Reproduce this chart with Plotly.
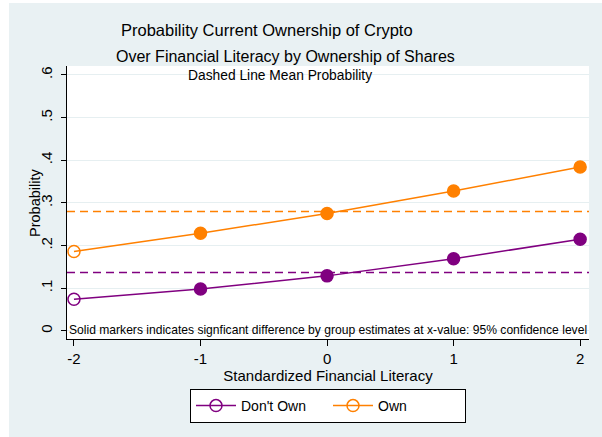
import plotly.graph_objects as go

# ---- data ----
x_vals = [-2, -1, 0, 1, 2]
dont_own = [0.074, 0.098, 0.129, 0.169, 0.215]
own = [0.186, 0.229, 0.275, 0.328, 0.384]
significant = [False, True, True, True, True]
mean_dont_own = 0.137
mean_own = 0.280
y_ticks = [0, 0.1, 0.2, 0.3, 0.4, 0.5, 0.6]
y_ticktext = ["0", ".1", ".2", ".3", ".4", ".5", ".6"]
x_ticks = [-2, -1, 0, 1, 2]
x_ticktext = ["-2", "-1", "0", "1", "2"]

PURPLE = "#800080"
ORANGE = "#FF8000"
BG = "#E9F1F3"
FONT = "Liberation Sans, Arial, sans-serif"

W, H = 602, 437
L, R, T, B = 67, 589, 66, 339


def xp(px):
    return (px - L) / (R - L)


def yp(py):
    return (B - py) / (B - T)


symbols = ["circle" if s else "circle-open" for s in significant]

fig = go.Figure()
for name, vals, col in [("Don't Own", dont_own, PURPLE), ("Own", own, ORANGE)]:
    fig.add_trace(go.Scatter(
        x=x_vals, y=vals, name=name, mode="lines+markers",
        line=dict(color=col, width=1.5),
        marker=dict(color=col, size=12, symbol=symbols, line=dict(color=col, width=1.5)),
    ))

for val, col in [(mean_dont_own, PURPLE), (mean_own, ORANGE)]:
    fig.add_shape(type="line", xref="paper", x0=0, x1=1, yref="y", y0=val, y1=val,
                  line=dict(color=col, width=1.5, dash="8px,5px"), layer="below")

# white strips at the image edges
fig.add_shape(type="rect", xref="paper", yref="paper", x0=xp(0), x1=xp(9), y0=yp(H), y1=yp(0),
              fillcolor="white", line=dict(width=0), layer="below")
fig.add_shape(type="rect", xref="paper", yref="paper", x0=xp(0), x1=xp(W), y0=yp(3), y1=yp(0),
              fillcolor="white", line=dict(width=0), layer="below")

annos = [
    dict(text="Probability Current Ownership of Crypto", x=xp(267), y=yp(30), size=16.5, angle=0),
    dict(text="Over Financial Literacy by Ownership of Shares", x=xp(285), y=yp(57), size=16, angle=0),
    dict(text="Dashed Line Mean Probability", x=xp(280), y=yp(75), size=13.8, angle=0),
    dict(text="Solid markers indicates signficant difference by group estimates at x-value: 95% confidence level",
         x=xp(328), y=yp(330), size=12.1, angle=0),
    dict(text="Probability", x=xp(35), y=yp(203), size=14.5, angle=-90),
]
for a in annos:
    fig.add_annotation(text=a["text"], x=a["x"], y=a["y"], xref="paper", yref="paper",
                       showarrow=False, xanchor="center", yanchor="middle", textangle=a["angle"],
                       font=dict(family=FONT, size=a["size"], color="black"))

fig.update_layout(
    width=W, height=H,
    margin=dict(l=L, r=W - R, t=T, b=H - B),
    paper_bgcolor=BG, plot_bgcolor="white",
    font=dict(family=FONT, color="black"),
    showlegend=True,
    legend=dict(orientation="h", x=0.5, xanchor="center", y=yp(389), yanchor="top",
                bgcolor="white", bordercolor="black", borderwidth=1,
                font=dict(size=14, family=FONT), itemwidth=40, entrywidth=82),
)
fig.update_xaxes(range=[-2.055, 2.07], tickvals=x_ticks, ticktext=x_ticktext, ticks="outside",
                 ticklen=6, tickcolor="black", showline=True, linecolor="black", linewidth=1,
                 showgrid=False, zeroline=False, tickfont=dict(size=15),
                 title=dict(text="Standardized Financial Literacy", font=dict(size=15), standoff=0))
fig.update_yaxes(range=[-0.019, 0.621], tickvals=y_ticks, ticktext=y_ticktext, tickangle=-90,
                 ticks="outside", ticklen=5, tickcolor="black", showline=True, linecolor="black",
                 linewidth=1, showgrid=True, gridcolor="#E6EFF1", gridwidth=1, zeroline=False,
                 tickfont=dict(size=15), ticklabelstandoff=3)

fig.write_html("out.html", config={"displayModeBar": False},
               post_script="document.body.style.margin='0';document.body.style.overflow='hidden';")
